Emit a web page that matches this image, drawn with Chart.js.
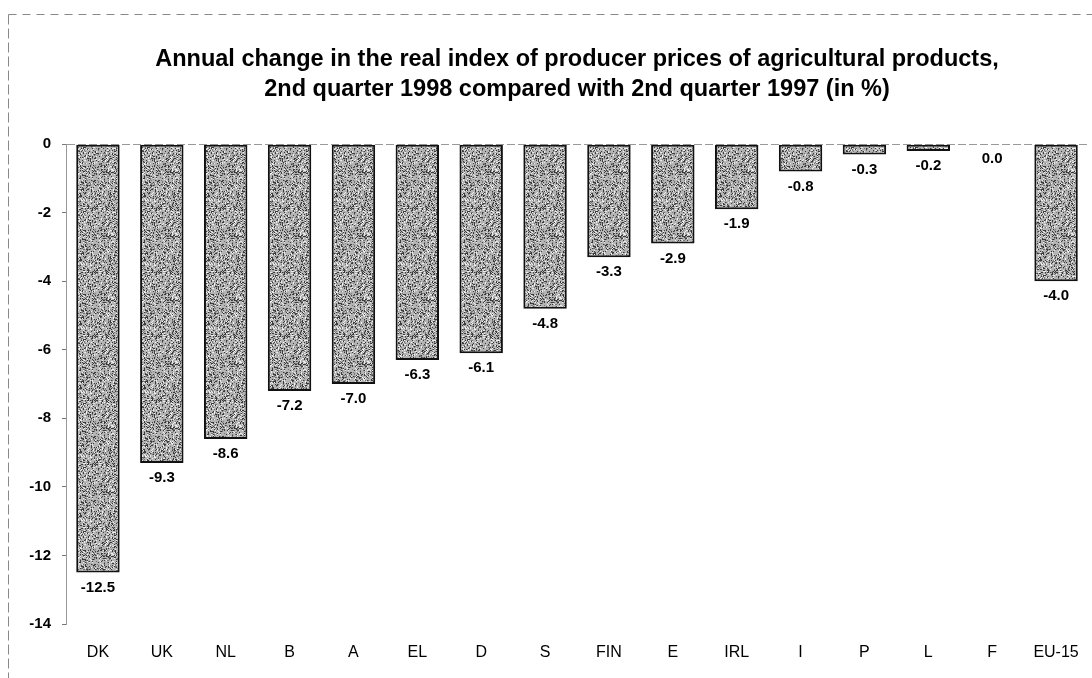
<!DOCTYPE html>
<html><head><meta charset="utf-8">
<script src="https://cdn.jsdelivr.net/npm/chart.js@4/dist/chart.umd.min.js"></script>
<style>html,body{margin:0;padding:0;background:#fff}#wrap{width:1092px;height:678px}</style>
</head><body><div id="wrap"><canvas id="c" width="1092" height="678"></canvas></div>
<script>
const categories = ['DK','UK','NL','B','A','EL','D','S','FIN','E','IRL','I','P','L','F','EU-15'];
const values = [-12.5,-9.3,-8.6,-7.2,-7.0,-6.3,-6.1,-4.8,-3.3,-2.9,-1.9,-0.8,-0.3,-0.2,0.0,-4.0];
const yTicks = [0,-2,-4,-6,-8,-10,-12,-14];
const titleLines = ['Annual change in the real index of producer prices of agricultural products,','2nd quarter 1998 compared with 2nd quarter 1997 (in %)'];

const FONT = '"Liberation Sans", Arial, sans-serif';

// stippled texture (deterministic)
function makePattern(){
  const p = document.createElement('canvas'); p.width = 64; p.height = 64;
  const g = p.getContext('2d');
  g.fillStyle = '#b4b4b4'; g.fillRect(0,0,64,64);
  let s = 12345;
  const rnd = () => { s = (s * 1103515245 + 12345) & 0x7fffffff; return s / 0x7fffffff; };
  for (let i = 0; i < 2200; i++) {
    const x = Math.floor(rnd()*64), y = Math.floor(rnd()*64);
    const v = rnd();
    g.fillStyle = v < 0.45 ? '#3a3a3a' : (v < 0.75 ? '#777' : '#eeeeee');
    g.fillRect(x, y, 1, 1);
  }
  return g.createPattern(p, 'repeat');
}

const frame = {
  id: 'frame',
  beforeDraw(chart){
    const c = chart.ctx; c.save();
    c.strokeStyle = '#888'; c.lineWidth = 1; c.setLineDash([8,6]);
    c.beginPath(); c.moveTo(8.5,14.5); c.lineTo(1092,14.5); c.stroke();
    c.setLineDash([10,4]);
    c.beginPath(); c.moveTo(8.5,14.5); c.lineTo(8.5,678); c.stroke();
    c.restore();
  }
};

const valueLabels = {
  id: 'valueLabels',
  afterDatasetsDraw(chart){
    const c = chart.ctx; const meta = chart.getDatasetMeta(0);
    c.save(); c.fillStyle = '#000'; c.font = 'bold 15px ' + FONT;
    c.textAlign = 'center'; c.textBaseline = 'middle';
    meta.data.forEach((bar, i) => {
      c.fillText(values[i].toFixed(1), bar.x, bar.y + 15);
    });
    c.restore();
  }
};

const ctx = document.getElementById('c').getContext('2d');
new Chart(ctx, {
  type: 'bar',
  data: { labels: categories, datasets: [{
    data: values,
    backgroundColor: makePattern(),
    borderColor: '#111', borderWidth: 2, borderSkipped: false,
    barPercentage: 0.68, categoryPercentage: 1.0
  }]},
  options: {
    responsive: false, animation: false,
    layout: { padding: { left: 6, right: 4, top: 0, bottom: 0 } },
    plugins: {
      legend: { display: false }, tooltip: { enabled: false },
      title: { display: true, text: titleLines, color: '#000', fullSize: false,
        font: { family: FONT, size: 23.5, weight: 'bold', lineHeight: 1.28 },
        padding: { top: 44, bottom: 40 } }
    },
    scales: {
      x: {
        grid: { display: false }, border: { display: false },
        ticks: { color: '#000', font: { family: FONT, size: 16 }, padding: 11, maxRotation: 0, autoSkip: false },
        afterFit: s => { s.height = 54; }
      },
      y: {
        min: -14, max: 0,
        afterBuildTicks: s => { s.ticks = yTicks.map(v => ({ value: v })); },
        grid: {
          drawOnChartArea: true, tickLength: 4,
          color: c => c.tick && c.tick.value === 0 ? '#999' : 'rgba(0,0,0,0)',
          tickColor: '#777', lineWidth: 1
        },
        border: { display: true, color: '#999', dash: [8,3] },
        ticks: { color: '#000', font: { family: FONT, size: 15, weight: 'bold' }, padding: 11,
          callback: v => String(v) },
        afterFit: s => { s.width = 60; }
      }
    }
  },
  plugins: [frame, valueLabels]
});
</script></body></html>
